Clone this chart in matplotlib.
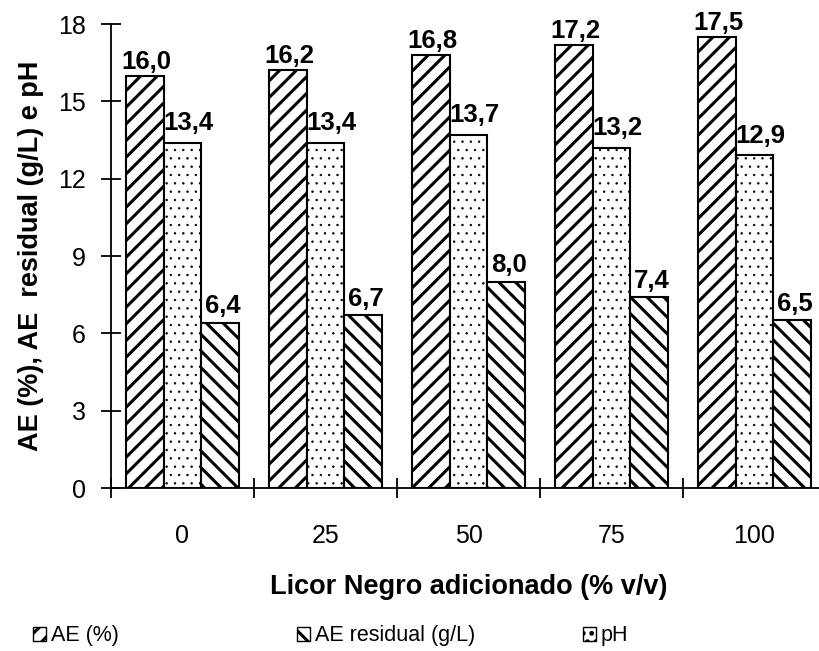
import numpy as np
import matplotlib
matplotlib.use("Agg")
import matplotlib.pyplot as plt
from matplotlib.patches import Patch

plt.rcParams['font.family'] = ['Liberation Sans', 'DejaVu Sans']
plt.rcParams['hatch.linewidth'] = 2.2

categorias = ['0', '25', '50', '75', '100']
ae_pct = [16.0, 16.2, 16.8, 17.2, 17.5]
ph = [13.4, 13.4, 13.7, 13.2, 12.9]
ae_residual = [6.4, 6.7, 8.0, 7.4, 6.5]

fig = plt.figure(figsize=(8.2, 6.51), dpi=100)
# eixo x passa um pouco da borda direita, como no original
ax = fig.add_axes([111/820, 163/651, 715/820, 464/651])

x = np.arange(len(categorias))
w = 0.262
b1 = ax.bar(x - w, ae_pct, w, facecolor='white', edgecolor='black', hatch='//', linewidth=1.5)
with plt.rc_context({'hatch.linewidth': 0.5}):
    b2 = ax.bar(x, ph, w, facecolor='white', edgecolor='black', hatch='..', linewidth=1.5)
b3 = ax.bar(x + w, ae_residual, w, facecolor='white', edgecolor='black', hatch='\\\\', linewidth=1.5)

offsets = [(1, 5), (4, 9), (2, 7)]
for bars, vals, off in [(b1, ae_pct, offsets[0]), (b2, ph, offsets[1]), (b3, ae_residual, offsets[2])]:
    for r, v in zip(bars, vals):
        ax.annotate(f"{v:.1f}".replace('.', ','), (r.get_x() + r.get_width()/2, v),
                    xytext=off, textcoords='offset points',
                    ha='center', va='baseline', fontsize=18.5, fontweight='bold')

ax.set_ylim(0, 18)
ax.set_xlim(-0.5, 4.5)
ax.set_yticks(np.arange(0, 19, 3))
ax.set_xticks(np.arange(-0.5, 4.6, 1.0))
ax.set_xticklabels([])
ax.set_xticks(x, minor=True)
ax.set_xticklabels(categorias, minor=True)
ax.tick_params(axis='x', which='minor', length=0, pad=26, labelsize=18)
ax.tick_params(axis='x', which='major', direction='inout', length=14.4, width=1.3)
ax.tick_params(axis='y', direction='inout', length=14.4, width=1.3, labelsize=18, pad=11)
for s in ['top', 'right']:
    ax.spines[s].set_visible(False)
for s in ['left', 'bottom']:
    ax.spines[s].set_linewidth(1.3)
    ax.spines[s].set_clip_on(False)

ax.set_xlabel('Licor Negro adicionado (% v/v)', fontsize=19.5, fontweight='bold', labelpad=19)
ax.set_ylabel('AE (%), AE  residual (g/L) e pH', fontsize=19.5, fontweight='bold', labelpad=10)

labels = ['AE (%)', 'AE residual (g/L)', 'pH']
hatches = ['//', '\\\\', '..']
xpos = [33/820, 297/820, 583/820]
for lab, h, xp in zip(labels, hatches, xpos):
    lw = 0.5 if h == '..' else 1.5
    with plt.rc_context({'hatch.linewidth': lw}):
        handle = Patch(facecolor='white', edgecolor='black', hatch=h, linewidth=1)
    fig.legend([handle], [lab], loc='center left', bbox_to_anchor=(xp, 15/651),
               frameon=False, fontsize=15.5, handlelength=0.62, handleheight=0.62,
               handletextpad=0.2, borderaxespad=0, borderpad=0)

fig.savefig('out.png', dpi=100)
